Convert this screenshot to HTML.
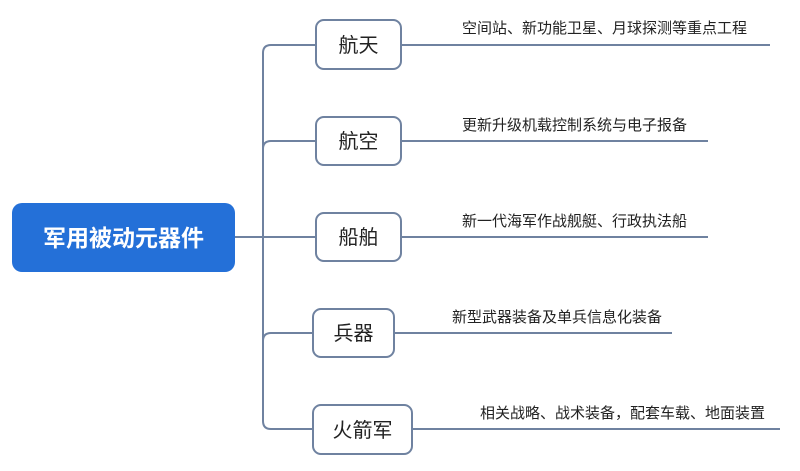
<!DOCTYPE html>
<html><head><meta charset="utf-8"><style>
body{margin:0;width:800px;height:466px;background:#fff;overflow:hidden;font-family:"Liberation Sans","Noto Sans CJK SC",sans-serif}
</style></head><body>
<svg width="800" height="466" viewBox="0 0 800 466" xmlns="http://www.w3.org/2000/svg" font-family="Liberation Sans, Noto Sans CJK SC, sans-serif">
<g stroke="#6f82a0" stroke-width="2" fill="none">
<path d="M316 45 H271 Q263 45 263 53 V421 Q263 429 271 429 H316"/>
<path d="M263 149 Q263 141 271 141 H316"/>
<path d="M263 341 Q263 333 271 333 H316"/>
<path d="M235 237 H316"/>
<path d="M401 45 H770"/>
<path d="M401 141 H708"/>
<path d="M401 237 H708"/>
<path d="M394 333 H672"/>
<path d="M412 429 H780"/>
</g>
<rect x="12" y="203" width="223" height="69" rx="10" fill="#2470d8"/>
<text x="123.5" y="246" font-size="23" fill="#fff" text-anchor="middle" font-weight="bold">军用被动元器件</text>
<g fill="#fff" stroke="#6f82a0" stroke-width="2">
<rect x="316" y="20" width="85" height="49" rx="8"/>
<rect x="316" y="117" width="85" height="48" rx="8"/>
<rect x="316" y="213" width="85" height="48" rx="8"/>
<rect x="313" y="309" width="81" height="48" rx="8"/>
<rect x="313" y="405" width="99" height="49" rx="8"/>
</g>
<g font-size="20" fill="#222" text-anchor="middle">
<text x="358.5" y="52">航天</text>
<text x="358.5" y="148">航空</text>
<text x="358.5" y="244">船舶</text>
<text x="353.5" y="340">兵器</text>
<text x="362.5" y="437">火箭军</text>
</g>
<g font-size="15" fill="#222">
<text x="462" y="33">空间站、新功能卫星、月球探测等重点工程</text>
<text x="462" y="130">更新升级机载控制系统与电子报备</text>
<text x="462" y="226">新一代海军作战舰艇、行政执法船</text>
<text x="452" y="322">新型武器装备及单兵信息化装备</text>
<text x="480" y="418">相关战略、战术装备，配套车载、地面装置</text>
</g>
</svg>
</body></html>
